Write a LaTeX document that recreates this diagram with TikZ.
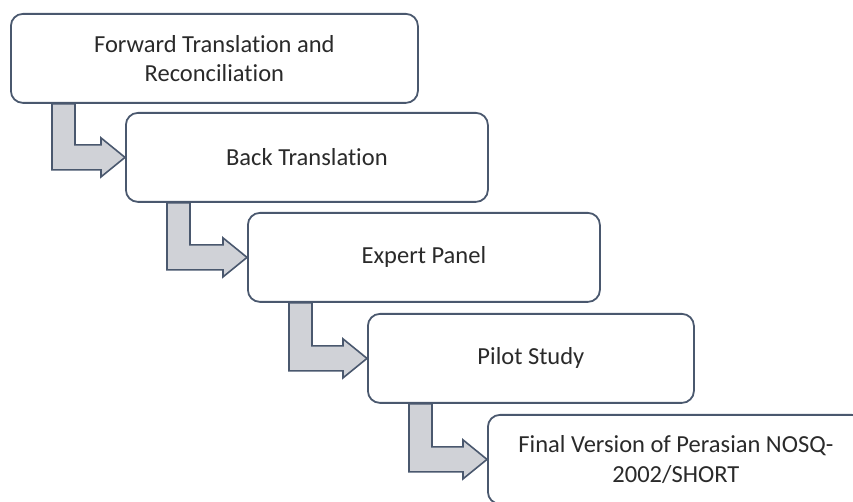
\documentclass[tikz,border=0pt]{standalone}
\usepackage{fontspec}
\setmainfont{Carlito}[Ligatures=NoCommon]
\usetikzlibrary{calc}
\definecolor{boxline}{RGB}{74,88,110}
\definecolor{arrowfill}{RGB}{208,210,215}
\definecolor{labelgray}{RGB}{42,42,42}

\begin{document}
\begin{tikzpicture}[x=1pt, y=1pt,
  stagebox/.style={draw=boxline, line width=1.8pt, fill=white, rounded corners=12pt,
    anchor=north west, minimum height=89pt, align=center, text=labelgray,
    font=\fontsize{24.5}{29.5}\selectfont, inner sep=4pt},
  bentarrow/.style={draw=boxline, line width=1.6pt, fill=arrowfill, line join=miter}]
  \useasboundingbox (0,0) rectangle (853,502);
  \clip (0,0) rectangle (853,502);

  % stages
  \node[stagebox, minimum width=407pt] (forward) at (10,489) {Forward Translation and\\Reconciliation};
  \node[stagebox, minimum width=362pt] (back) at (125,390) {Back Translation};
  \node[stagebox, minimum width=352pt] (expert) at (247,290) {Expert Panel};
  \node[stagebox, minimum width=326pt] (pilot) at (367,189) {Pilot Study};
  \node[stagebox, minimum width=376pt] (final) at (487,88) {Final Version of Perasian NOSQ-\\2002/SHORT};

  % bent arrows between stages
  \foreach \from/\to in {forward/back, back/expert, expert/pilot, pilot/final}
    \draw[bentarrow] let \p1 = ($(\from.south west)+(42pt,0)$), \p2 = (\to.west) in
      (\x1,\y1) -- (\x1,\y2-12.5pt) -- (\x2-24pt,\y2-12.5pt) -- (\x2-24pt,\y2-19.5pt)
      -- (\p2) -- (\x2-24pt,\y2+19.5pt) -- (\x2-24pt,\y2+12.5pt) -- (\x1+23pt,\y2+12.5pt)
      -- (\x1+23pt,\y1) -- cycle;
\end{tikzpicture}
\end{document}
